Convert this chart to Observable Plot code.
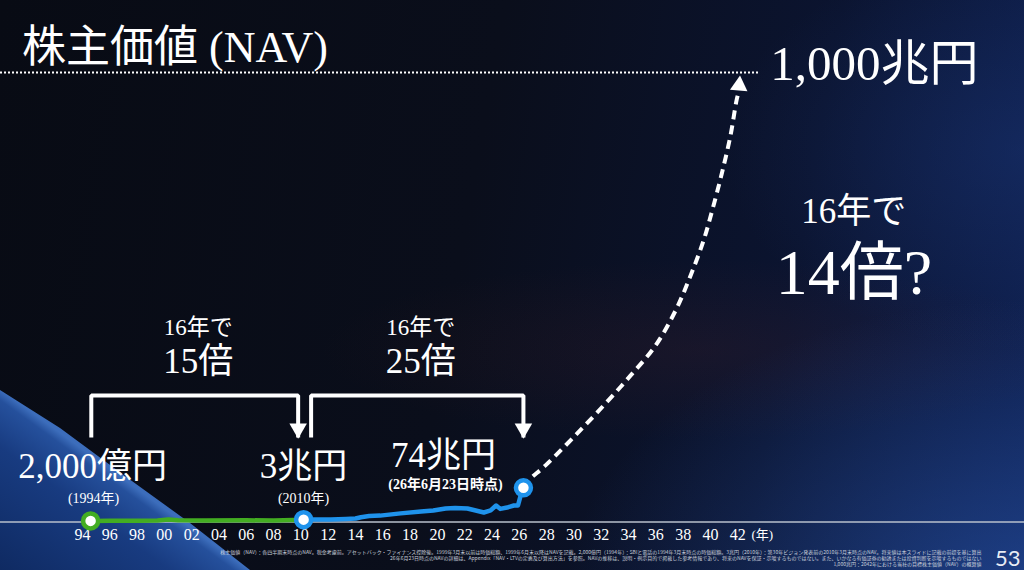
<!DOCTYPE html>
<html lang="ja">
<head>
<meta charset="utf-8">
<script src="https://cdn.jsdelivr.net/npm/d3@7"></script>
<script src="https://cdn.jsdelivr.net/npm/@observablehq/plot@0.6"></script>
<style>
  html, body { margin: 0; padding: 0; background: #0a0e18; }
  #slide {
    position: relative; width: 1024px; height: 570px; overflow: hidden;
    background:
      radial-gradient(ellipse 460px 300px at 1024px 600px, rgba(45,95,190,0.5), rgba(45,95,190,0) 100%),
      radial-gradient(ellipse 380px 90px at 700px 350px, rgba(95,40,40,0.16), rgba(95,40,40,0)),
      radial-gradient(ellipse 300px 200px at 1024px 150px, rgba(30,60,130,0.35), rgba(30,60,130,0)),
      linear-gradient(100deg, #080b14 0%, #0a0e1b 45%, #0b1430 75%, #0f2152 100%);
  }
  #swoosh {
    position: absolute; left: 0; top: 390px; width: 250px; height: 180px;
    clip-path: polygon(0 0, 60px 38px, 125px 86px, 190px 133px, 250px 180px, 0 180px);
    background: linear-gradient(216deg, #3c6dbb 50%, #25509c 53%, #183b80 66%, #0f2a62 100%);
  }
  #title {
    position: relative; height: 60px; box-sizing: border-box;
    padding: 26px 0 0 22px;
    font-family: "Liberation Serif", "Noto Sans CJK JP", serif;
    font-size: 44px; line-height: 44px; color: #ffffff;
    white-space: nowrap;
  }
  #chart { position: relative; margin-top: 0; }
  #chart svg { display: block; }
</style>
</head>
<body>
<div id="slide">
  <div id="swoosh"></div>
  <div id="title">株主価値 (NAV)</div>
  <div id="chart"></div>
</div>
<script>
// ---------- data ----------
const tickYears  = [1994, 1996, 1998, 2000, 2002, 2004, 2006, 2008, 2010, 2012, 2014, 2016, 2018,
                    2020, 2022, 2024, 2026, 2028, 2030, 2032, 2034, 2036, 2038, 2040, 2042];
const tickLabels = ["94", "96", "98", "00", "02", "04", "06", "08", "10", "12", "14", "16", "18",
                    "20", "22", "24", "26", "28", "30", "32", "34", "36", "38", "40", "42"];
const unitLabel = "(年)";

// NAV (兆円) 1994-2010 (green)
const greenYears  = [1994.6, 1996, 1998, 1999.5, 2000.3, 2001, 2003, 2006, 2008, 2010.2];
const greenValues = [0.2, 0.3, 0.4, 1.0, 3.5, 1.5, 1.0, 1.5, 1.2, 3];

// NAV (兆円) 2010-2026 (blue)
const blueYears  = [2010.2, 2010.8, 2012.2, 2013.3, 2014.0, 2014.4, 2015.0, 2015.8, 2017.3, 2018.8,
                    2019.7, 2020.6, 2021.3, 2022.2, 2022.8, 2023.4, 2023.9, 2024.3, 2024.6, 2025.1,
                    2025.6, 2025.9, 2026.1, 2026.3];
const blueValues = [3, 3.2, 3.4, 4.5, 5.6, 8.5, 11, 12, 17, 21,
                    23.5, 28, 29, 28, 23.5, 19, 23.5, 34.6, 27, 30,
                    34.6, 34.6, 57, 74];

// projection (dashed) 2026-2042
const projYears  = [2026.3, 2026.67, 2027.92, 2030.11, 2032.31, 2034.14, 2035.97, 2037.44,
                    2038.54, 2039.49, 2040.22, 2040.88, 2041.47, 2041.91, 2042.05];
const projValues = [74, 90, 124, 191, 262, 324, 391, 469, 547, 625, 703, 781, 860, 938, 955];

// milestones
const milestoneYears  = [1994.6, 2010.2, 2026.3];
const milestoneValues = [0.2, 3, 74];
const milestoneLabels = ["2,000億円", "3兆円", "74兆円"];
const milestoneNotes  = ["(1994年)", "(2010年)", "(26年6月23日時点)"];

// target
const targetYear = 2042.1;
const targetValue = 1000;
const targetLabel = "1,000兆円";

// growth spans
const spanLeads     = ["16年で", "16年で", "16年で"];
const spanMultiples = ["15倍", "25倍", "14倍?"];

const footnote = [
  "株主価値（NAV）：各四半期末時点のNAV。税金考慮前。アセットバック・ファイナンス控除後。1999年3月末以前は時価総額、1999年6月末以降はNAVを記載。2,000億円（1994年）：SBIと電話の1994年3月末時点の時価総額。3兆円（2010年）：第30年ビジョン発表前の2010年3月末時点のNAV。将来値は本スライドに記載の前提を基に算出",
  "26年6月23日時点のNAVの詳細は、Appendix「NAV・LTVの定義及び算出方法」を参照。NAVの推移は、説明・例示目的で掲載した参考情報であり、将来のNAVを保証・示唆するものではない。また、いかなる有価証券の勧誘または投資判断を示唆するものではない",
  "1,000兆円：2042年における当社の目標株主価値（NAV）の概算値"
].join("\n");
const pageNumber = "53";

// ---------- tables ----------
const green = greenYears.map((year, i) => ({year, value: greenValues[i]}));
const blue = blueYears.map((year, i) => ({year, value: blueValues[i]}));
const proj = projYears.map((year, i) => ({year, value: projValues[i]}));
const milestones = milestoneYears.map((year, i) => ({
  year, value: milestoneValues[i], label: milestoneLabels[i], note: milestoneNotes[i]
}));

// layout constants (value-scale positions of annotation elements)
const bracketTop = 280, bracketBottom = 186, junctionGap = [0.4, 0.55];
const leadY = 414, multY = 329;
const projLeadY = 665, projMultY = 507, projLabelX = 2050.5;

const brackets = [];
[[0, 1], [1, 2]].forEach(([a, b], k) => {
  const x1 = milestones[a].year + (k === 0 ? 0.05 : junctionGap[1]);
  const x2 = milestones[b].year - (k === 0 ? junctionGap[0] : 0);
  brackets.push({k, x: x1, y: bracketBottom}, {k, x: x1, y: bracketTop},
                {k, x: x2, y: bracketTop}, {k, x: x2, y: bracketBottom});
});
const arrowTips = [0, 1].map(k => {
  const pts = brackets.filter(d => d.k === k);
  return {x: pts[3].x, y: bracketBottom};
});
const spanLabels = [0, 1].map(k => {
  const pts = brackets.filter(d => d.k === k);
  return {x: (pts[0].x + pts[3].x) / 2 + 0.25, lead: spanLeads[k], mult: spanMultiples[k]};
});

const serif = "'Liberation Serif', 'Noto Sans CJK JP', serif";
const GREEN = "#43ad22", BLUE = "#1f93ec";

const labelOffsets = [
  {dx: 2, dy: -43, ndx: 3, ndy: -18},
  {dx: 0, dy: -42, ndx: 0, ndy: -17},
  {dx: -80, dy: -21, ndx: -78, ndy: 1}
];

const chart = Plot.plot({
  width: 1024,
  height: 510,
  marginTop: 12,
  marginBottom: 49.5,
  marginLeft: 0,
  marginRight: 0,
  x: {
    domain: [1988, 2063],
    ticks: tickYears,
    tickFormat: d => tickLabels[tickYears.indexOf(d)],
    tickSize: 0,
    tickPadding: 8,
    label: null
  },
  y: {domain: [0, 1000], axis: null},
  style: {
    background: "transparent",
    color: "#ffffff",
    fontFamily: serif,
    fontSize: "16px",
    overflow: "visible"
  },
  marks: [
    // baseline
    Plot.ruleY([0], {stroke: "#b9c0cc", strokeWidth: 1.5, dy: 1}),
    // 1,000兆円 dotted line
    Plot.ruleY([{value: targetValue}], {
      y: "value", x1: () => 1988, x2: () => targetYear + 1.5,
      stroke: "#ffffff", strokeWidth: 2, strokeDasharray: "2 2"
    }),
    Plot.text([{year: targetYear, value: targetValue, label: targetLabel}], {
      x: "year", y: "value", text: "label", textAnchor: "start", lineAnchor: "bottom",
      dx: 31, dy: 7, fontSize: 49, fill: "#ffffff"
    }),
    // projection
    Plot.line(proj, {
      x: "year", y: "value", curve: "catmull-rom", stroke: "#ffffff",
      strokeWidth: 4, strokeDasharray: "9 6", strokeLinecap: "butt"
    }),
    Plot.dot([{year: targetYear, value: targetValue}], {
      x: "year", y: "value", symbol: "triangle", r: 6.5, fill: "#ffffff",
      stroke: "none", dy: 13, rotate: 5
    }),
    // NAV lines
    Plot.line(green, {x: "year", y: "value", stroke: GREEN, strokeWidth: 4.5}),
    Plot.line(blue, {x: "year", y: "value", stroke: BLUE, strokeWidth: 4.5}),
    Plot.dot(milestones, {
      x: "year", y: "value", r: 7.5, fill: "#ffffff", strokeWidth: 4.5,
      stroke: (d, i) => i === 0 ? GREEN : BLUE
    }),
    // brackets
    Plot.line(brackets, {
      x: "x", y: "y", z: "k", stroke: "#ffffff", strokeWidth: 4,
      strokeLinejoin: "miter", strokeLinecap: "butt"
    }),
    Plot.dot(arrowTips, {
      x: "x", y: "y", symbol: "triangle", r: 6.5, rotate: 180, fill: "#ffffff",
      stroke: "none", dy: -9
    }),
    Plot.text(spanLabels, {
      x: "x", y: () => leadY, text: "lead", lineAnchor: "bottom", fontSize: 23, fill: "#ffffff"
    }),
    Plot.text(spanLabels, {
      x: "x", y: () => multY, text: "mult", lineAnchor: "bottom", fontSize: 35, fill: "#ffffff"
    }),
    // projection annotation
    Plot.text([{x: projLabelX, y: projLeadY, t: spanLeads[2]}], {
      x: "x", y: "y", text: "t", lineAnchor: "bottom", fontSize: 35, fill: "#ffffff"
    }),
    Plot.text([{x: projLabelX, y: projMultY, t: spanMultiples[2]}], {
      x: "x", y: "y", text: "t", lineAnchor: "bottom", fontSize: 64, fill: "#ffffff"
    }),
    // milestone labels
    ...milestones.flatMap((m, i) => [
      Plot.text([m], {
        x: "year", y: "value", text: "label", lineAnchor: "bottom",
        dx: labelOffsets[i].dx, dy: labelOffsets[i].dy, fontSize: 35, fill: "#ffffff"
      }),
      Plot.text([m], {
        x: "year", y: "value", text: "note", lineAnchor: "bottom",
        dx: labelOffsets[i].ndx, dy: labelOffsets[i].ndy, fontSize: 14,
        fontWeight: i === 2 ? "bold" : "normal", fill: "#ffffff"
      })
    ]),
    // unit label
    Plot.text([{x: tickYears[tickYears.length - 1] + 1.8, y: 0, t: unitLabel}], {
      x: "x", y: "y", text: "t", lineAnchor: "top", dy: 9, fontSize: 13, fill: "#ffffff"
    }),
    // footnote + page number
    Plot.text([footnote], {
      text: d => d, frameAnchor: "bottom-right", textAnchor: "end", lineAnchor: "bottom",
      dx: -43, dy: 44.5, fontSize: 5, lineHeight: 1.2, fill: "#c9cfdb",
      fontFamily: "'Noto Sans CJK JP', sans-serif"
    }),
    Plot.text([pageNumber], {
      text: d => d, frameAnchor: "bottom-right", textAnchor: "end", lineAnchor: "bottom",
      dx: -4, dy: 44.5, fontSize: 22, fill: "#e8ecf4", fontFamily: "Lato, 'Open Sans', sans-serif"
    })
  ]
});

document.getElementById("chart").appendChild(chart);
</script>
</body>
</html>
